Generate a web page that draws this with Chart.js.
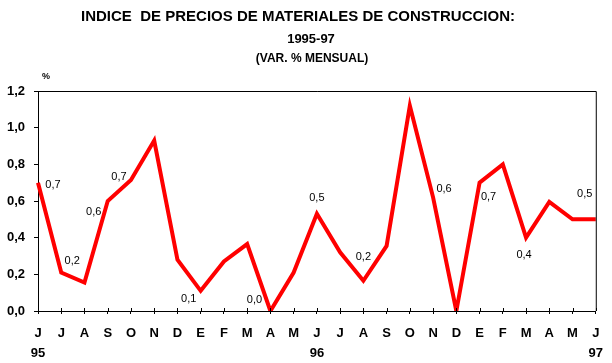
<!DOCTYPE html>
<html>
<head>
<meta charset="utf-8">
<script src="https://cdn.jsdelivr.net/npm/chart.js@4/dist/chart.umd.min.js"></script>
<style>
  html, body { margin: 0; padding: 0; background: #fff; }
</style>
</head>
<body>
<canvas id="chart" width="612" height="363"></canvas>
<script>
const months = ['J','J','A','S','O','N','D','E','F','M','A','M','J','J','A','S','O','N','D','E','F','M','A','M','J'];
const years = ['95', '96', '97'];
const yearIndex = [0, 12, 24];
const variacion = [0.70, 0.21, 0.155, 0.60, 0.715, 0.93, 0.28, 0.11, 0.27, 0.365, 0.0, 0.21, 0.53,
                   0.32, 0.165, 0.355, 1.12, 0.62, 0.0, 0.70, 0.80, 0.40, 0.595, 0.50, 0.50];
const labelled = [0, 1, 3, 4, 7, 10, 12, 14, 17, 19, 21, 24];
const yMin = 0, yMax = 1.2, yStep = 0.2;

const FONT = "'Liberation Sans', Arial, sans-serif";
const fmt = v => v.toFixed(1).replace('.', ',');

// x labels: month letter, plus the year under the first month of each year
const xLabels = months.map((m, i) => {
  const k = yearIndex.indexOf(i);
  return k >= 0 ? [m, years[k]] : m;
});

// where each value label sits relative to its point
const labelOffset = {
  0: [15, 2], 1: [11, -12], 3: [-14, 11], 4: [-12, -3], 7: [-12, 8], 10: [-16, -11],
  12: [0, -16], 14: [0, -24], 17: [11, -8], 19: [9, 14], 21: [-2, 17], 24: [-11, -25]
};

const decor = {
  id: 'decor',
  beforeDraw(chart) {
    const ctx = chart.ctx;
    ctx.save();
    ctx.fillStyle = '#000';
    ctx.textAlign = 'center';
    ctx.textBaseline = 'middle';
    ctx.font = 'bold 15px ' + FONT;
    ctx.fillText('INDICE  DE PRECIOS DE MATERIALES DE CONSTRUCCION:', 298, 17);
    ctx.font = 'bold 13px ' + FONT;
    ctx.fillText('1995-97', 311, 39);
    ctx.font = 'bold 12px ' + FONT;
    ctx.fillText('(VAR. % MENSUAL)', 312, 59);
    ctx.font = 'bold 9px ' + FONT;
    ctx.fillText('%', 46, 77);
    ctx.restore();
  },
  afterDatasetsDraw(chart) {
    const ctx = chart.ctx;
    const a = chart.chartArea;
    ctx.save();
    // frame top and right
    ctx.strokeStyle = '#000';
    ctx.lineWidth = 1;
    ctx.beginPath();
    ctx.moveTo(a.left, a.top + 0.5);
    ctx.lineTo(a.right + 0.5, a.top + 0.5);
    ctx.lineTo(a.right + 0.5, a.bottom);
    ctx.stroke();
    // inner part of the x ticks
    const x = chart.scales.x;
    ctx.beginPath();
    x.ticks.forEach((t, i) => {
      const px = Math.round(x.getPixelForTick(i)) + 0.5;
      ctx.moveTo(px, a.bottom - 3);
      ctx.lineTo(px, a.bottom);
    });
    ctx.stroke();
    // value labels
    const meta = chart.getDatasetMeta(0);
    ctx.fillStyle = '#000';
    ctx.font = '11px ' + FONT;
    ctx.textAlign = 'center';
    ctx.textBaseline = 'middle';
    labelled.forEach(i => {
      const p = meta.data[i];
      const o = labelOffset[i];
      ctx.fillText(fmt(variacion[i]), p.x + o[0], p.y + o[1]);
    });
    ctx.restore();
  }
};

new Chart(document.getElementById('chart'), {
  type: 'line',
  data: {
    labels: xLabels,
    datasets: [{
      data: variacion,
      borderColor: '#ff0000',
      borderWidth: 4,
      pointRadius: 0,
      tension: 0,
      fill: false
    }]
  },
  options: {
    responsive: false,
    animation: false,
    devicePixelRatio: 1,
    layout: { padding: { top: 91, right: 16, left: 0, bottom: 0 } },
    plugins: { legend: { display: false }, tooltip: { enabled: false } },
    scales: {
      x: {
        offset: false,
        border: { color: '#000', width: 1 },
        grid: { drawOnChartArea: false, color: '#000', tickLength: 3 },
        ticks: {
          color: '#000', padding: 9, autoSkip: false, maxRotation: 0,
          font: { family: FONT, size: 13, weight: 'bold', lineHeight: 1.55 }
        },
        afterFit: s => { s.height = 52; }
      },
      y: {
        min: yMin, max: yMax,
        border: { color: '#000', width: 1 },
        grid: { drawOnChartArea: false, color: '#000', tickLength: 4 },
        ticks: {
          stepSize: yStep, color: '#000', padding: 9,
          font: { family: FONT, size: 13, weight: 'bold' },
          callback: v => fmt(v)
        },
        afterFit: s => { s.width = 38; }
      }
    }
  },
  plugins: [decor]
});
</script>
</body>
</html>
